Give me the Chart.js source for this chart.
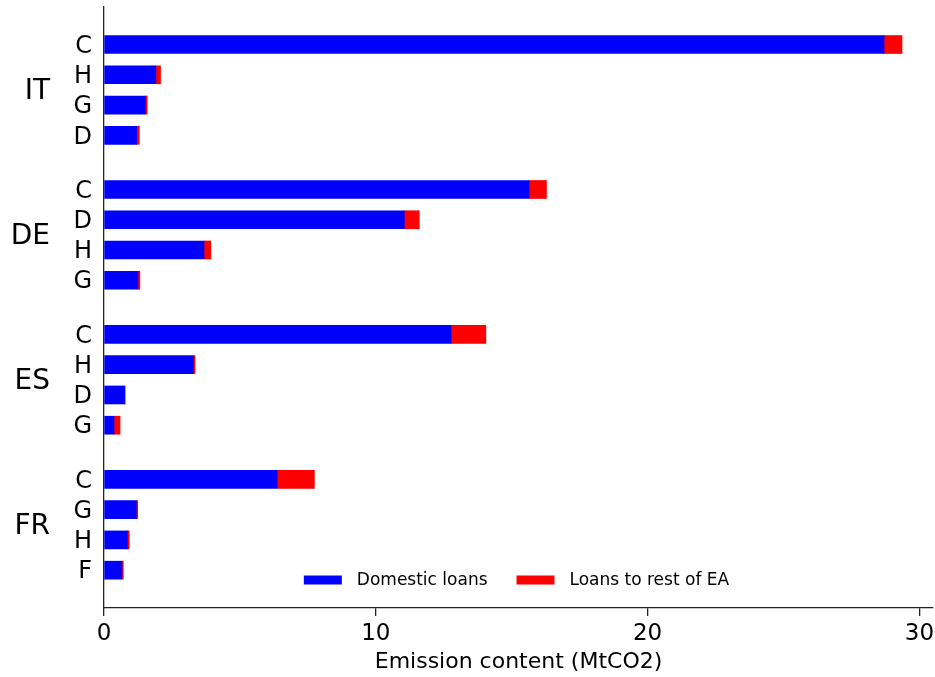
<!DOCTYPE html>
<html><head><meta charset="utf-8">
<script src="https://cdn.jsdelivr.net/npm/chart.js@4/dist/chart.umd.min.js"></script>
<style>html,body{margin:0;padding:0;background:#fff;}#wrap{width:935px;height:677px;}</style>
</head><body><div id="wrap"><canvas id="c" width="935" height="677"></canvas></div>
<script>
const countries = ['IT', 'DE', 'ES', 'FR'];
const sectorLabels = [['C', 'H', 'G', 'D'], ['C', 'D', 'H', 'G'], ['C', 'H', 'D', 'G'], ['C', 'G', 'H', 'F']];
const domesticLoans = [[28.70, 1.91, 1.52, 1.20], [15.64, 11.05, 3.68, 1.25], [12.77, 3.29, 0.77, 0.37], [6.37, 1.19, 0.86, 0.66]];
const loansRestOfEA = [[0.66, 0.17, 0.07, 0.10], [0.64, 0.55, 0.25, 0.07], [1.28, 0.06, 0.00, 0.22], [1.37, 0.05, 0.07, 0.05]];
const seriesNames = ['Domestic loans', 'Loans to rest of EA'];
const xTicks = [0, 10, 20, 30];
const xTitle = 'Emission content (MtCO2)';

const FONT = '"DejaVu Sans", sans-serif';
const GROUP_STEP = 4.79;
const rowPos = [], rowLab = [], groupPos = [];
countries.forEach((c, g) => {
  sectorLabels[g].forEach((s, i) => { rowPos.push(g * GROUP_STEP + i); rowLab.push(s); });
  groupPos.push(g * GROUP_STEP + (sectorLabels[g].length - 1) / 2);
});
const yMin = -1.24, yMax = rowPos[rowPos.length - 1] + 1.25;

const toPoints = arr => arr.flat().map((v, k) => ({ x: v, y: rowPos[k] }));

const legendPlugin = {
  id: 'inLegend',
  afterDraw(chart) {
    const { ctx, chartArea: a } = chart;
    ctx.save();
    ctx.font = '17px ' + FONT;
    const sw = 38, sh = 9, g1 = 15, g2 = 29;
    const ds = chart.data.datasets;
    const widths = ds.map(d => ctx.measureText(d.label).width);
    const total = widths.reduce((s, w) => s + sw + g1 + w, 0) + g2 * (ds.length - 1);
    let x = (a.left + a.right) / 2 - 2 - total / 2;
    const y = a.bottom - 28;
    ds.forEach((d, i) => {
      ctx.fillStyle = d.backgroundColor;
      ctx.fillRect(x, y - sh / 2, sw, sh);
      x += sw + g1;
      ctx.fillStyle = '#000';
      ctx.textBaseline = 'middle';
      ctx.textAlign = 'left';
      ctx.fillText(d.label, x, y + 1);
      x += widths[i] + g2;
    });
    ctx.restore();
  }
};

new Chart(document.getElementById('c'), {
  type: 'bar',
  data: {
    datasets: [
      { label: seriesNames[0], data: toPoints(domesticLoans), backgroundColor: '#0000ff', stack: 's', barThickness: 18, borderWidth: 0 },
      { label: seriesNames[1], data: toPoints(loansRestOfEA), backgroundColor: '#ff0000', stack: 's', barThickness: 18, borderWidth: 0 }
    ]
  },
  options: {
    indexAxis: 'y',
    responsive: false,
    animation: false,
    devicePixelRatio: 1,
    layout: { padding: { top: 7, right: 2, bottom: 0, left: 0 } },
    plugins: { legend: { display: false }, tooltip: { enabled: false } },
    scales: {
      x: {
        type: 'linear', min: 0, max: 30.5, stacked: true, offset: false,
        afterBuildTicks: s => { s.ticks = xTicks.map(v => ({ value: v })); },
        ticks: { font: { family: FONT, size: 23 }, color: '#000', padding: 4, includeBounds: false },
        grid: { display: true, drawOnChartArea: false, drawTicks: true, tickLength: 8, color: '#222', lineWidth: 1.3 },
        border: { display: true, color: '#222', width: 1.3 },
        title: { display: true, text: xTitle, font: { family: FONT, size: 22 }, color: '#000', padding: { top: 1, bottom: 2 } },
        afterFit: s => { s.height = 69; s.paddingLeft = 0; s.paddingRight = 0; }
      },
      y: {
        type: 'linear', position: 'left', weight: 0, min: yMin, max: yMax, reverse: true, stacked: true, offset: false,
        afterBuildTicks: s => { s.ticks = rowPos.map(v => ({ value: v })); },
        ticks: { autoSkip: false, font: { family: FONT, size: 24 }, color: '#000', padding: 12, labelOffset: 2, callback: (v, i) => rowLab[i] },
        grid: { display: false, drawTicks: false },
        border: { display: true, color: '#222', width: 1.3 },
        afterFit: s => { s.width = 49; s.paddingTop = 0; s.paddingBottom = 0; }
      },
      y2: {
        type: 'linear', axis: 'y', position: 'left', weight: 1, min: yMin, max: yMax, reverse: true, offset: false,
        afterBuildTicks: s => { s.ticks = groupPos.map(v => ({ value: v })); },
        ticks: { autoSkip: false, font: { family: FONT, size: 28 }, color: '#000', padding: 5, labelOffset: 2, callback: (v, i) => countries[i] },
        grid: { display: false, drawTicks: false },
        border: { display: false },
        afterFit: s => { s.width = 55; s.paddingTop = 0; s.paddingBottom = 0; }
      }
    }
  },
  plugins: [legendPlugin]
});
</script></body></html>
